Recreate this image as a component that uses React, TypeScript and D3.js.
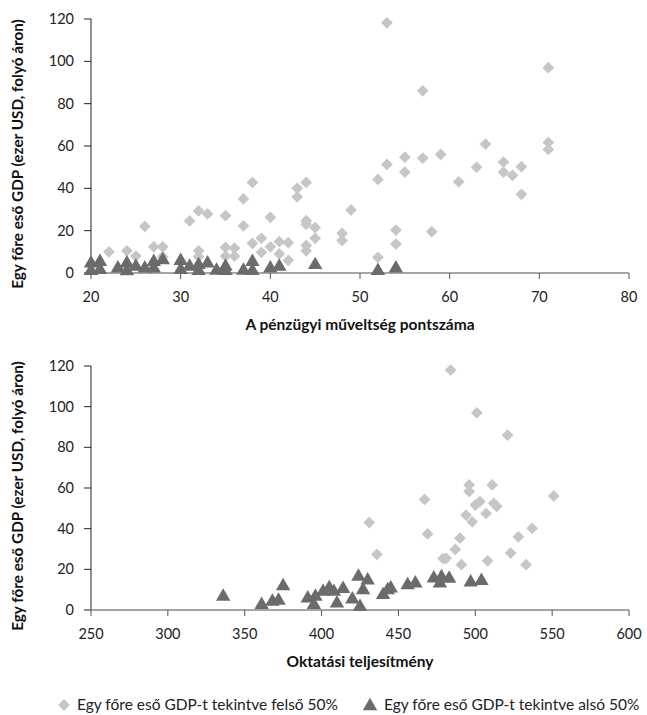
import React from "react";
import * as d3 from "d3";

// felső ábra: pénzügyi műveltség pontszáma vs. egy főre eső GDP
const finLitUpper: [number, number][] = [
  [22, 10], [24, 10.5], [25, 8], [26, 22], [27, 12.4], [28, 12.4], [28, 7.7],
  [31, 24.6], [32, 29.3], [33, 27.9], [32, 10.5], [32, 7.7], [35, 27.1], [35, 12.1],
  [35, 8], [36, 11.7], [36, 8], [37, 35], [37, 22.3], [38, 42.8], [38, 14],
  [39, 16.4], [39, 9.8], [40, 26.3], [40, 12.4], [41, 14.8], [41, 9], [42, 14.3],
  [42, 6], [43, 40], [43, 36], [44, 42.8], [44, 24.7], [44, 23], [44, 13], [44, 10.5],
  [45, 21.4], [45, 16.4], [48, 18.7], [48, 15.3], [49, 29.8], [52, 7.4], [52, 44.2],
  [53, 118.2], [53, 51.3], [54, 20.3], [54, 13.7], [55, 54.7], [55, 47.6], [57, 86.1],
  [57, 54.3], [58, 19.5], [59, 56], [61, 43.1], [63, 50], [64, 60.9], [66, 52.4],
  [66, 47.6], [67, 46.1], [68, 50.2], [68, 37.2], [71, 97], [71, 61.7], [71, 58.4],
];
const finLitLower: [number, number][] = [
  [20, 4.6], [20, 1], [21, 5.3], [21, 1.5], [23, 2.2], [24, 4.6], [24, 0.9], [25, 3],
  [26, 2.2], [27, 5.3], [27, 2.2], [28, 6.1], [30, 5.8], [30, 1.5], [31, 3], [32, 3.8],
  [32, 1], [33, 4.6], [34, 1.1], [35, 3], [35, 1], [37, 1.1], [38, 5.3], [38, 1],
  [40, 2.2], [41, 3], [45, 3.8], [52, 1], [54, 2.2],
];

// alsó ábra: oktatási teljesítmény vs. egy főre eső GDP
const eduUpper: [number, number][] = [
  [431, 43], [436, 27.4], [467, 54.4], [469, 37.4], [479, 25.3], [481, 25.4], [484, 118],
  [487, 29.8], [490, 35.3], [491, 22.3], [494, 46.7], [496, 61.5], [496, 58.3], [498, 43.4],
  [500, 51.6], [501, 97], [503, 53.3], [507, 47.5], [508, 24.2], [511, 61.5], [512, 52.5],
  [514, 51], [521, 86], [523, 28], [528, 36], [533, 22.3], [537, 40.2], [551, 56.1],
];
const eduLower: [number, number][] = [
  [336, 6.6], [361, 2.5], [368, 4.1], [372, 4.6], [375, 11.8], [391, 5.7], [396, 6.6],
  [395, 2.5], [401, 9], [405, 10.8], [408, 9], [410, 3.3], [414, 10.4], [420, 5.3],
  [424, 16.4], [425, 1.6], [427, 9.8], [430, 14.6], [440, 7.4], [443, 9.8], [445, 10.7],
  [456, 12.3], [461, 13.1], [473, 15.6], [477, 13.1], [478, 16.2], [483, 15.4],
  [497, 13.6], [504, 14.4],
];

const gdpTicks = [0, 20, 40, 60, 80, 100, 120];
const finLitTicks = [20, 30, 40, 50, 60, 70, 80];
const eduTicks = [250, 300, 350, 400, 450, 500, 550, 600];

const yTitle = "Egy főre eső GDP (ezer USD, folyó áron)";
const legendLabels = [
  "Egy főre eső GDP-t tekintve felső 50%",
  "Egy főre eső GDP-t tekintve alsó 50%",
];

const FONT = "Lato, 'Noto Sans', sans-serif";
const LIGHT = "#c6c6c6";
const DARK = "#6b6b6b";

const diamondPath = d3.symbol().type(d3.symbolDiamond2).size(88)()!;
const trianglePath = d3.symbol().type(d3.symbolTriangle).size(90)()!;

type PanelProps = {
  top: number;
  bottom: number;
  xDomain: [number, number];
  xTicks: number[];
  xTitle: string;
  upper: [number, number][];
  lower: [number, number][];
};

const Panel = ({ top, bottom, xDomain, xTicks, xTitle, upper, lower }: PanelProps) => {
  const left = 91;
  const right = 629;
  const x = d3.scaleLinear().domain(xDomain).range([left, right]);
  const y = d3.scaleLinear().domain([0, 120]).range([bottom, top]);

  return (
    <g>
      {/* y axis */}
      <text
        transform={`translate(23,${(top + bottom) / 2 + 8}) rotate(-90)`}
        textAnchor="middle"
        fontFamily={FONT}
        fontWeight="bold"
        fontSize={15.3}
        fill="#111"
      >
        {yTitle}
      </text>
      <line x1={left} x2={left} y1={top} y2={bottom} stroke="#222" strokeWidth={1} />
      {gdpTicks.map((t) => (
        <g key={t} transform={`translate(0,${y(t)})`}>
          <line x1={left - 7} x2={left} stroke="#222" />
          <text x={left - 17} dy="0.35em" textAnchor="end" fontFamily={FONT} fontSize={14.5} fill="#222">
            {t}
          </text>
        </g>
      ))}

      {/* x axis */}
      <line x1={left} x2={right} y1={bottom} y2={bottom} stroke="#888" strokeWidth={1.5} />
      {xTicks.map((t) => (
        <g key={t} transform={`translate(${x(t)},${bottom})`}>
          <line y1={0} y2={6} stroke="#555" />
          <text y={24} dy="0.35em" textAnchor="middle" fontFamily={FONT} fontSize={14.5} fill="#222">
            {t}
          </text>
        </g>
      ))}
      <text
        x={(left + right) / 2}
        y={bottom + 57}
        textAnchor="middle"
        fontFamily={FONT}
        fontWeight="bold"
        fontSize={15.5}
        fill="#111"
      >
        {xTitle}
      </text>

      {upper.map(([a, b], i) => (
        <path key={"u" + i} d={diamondPath} transform={`translate(${x(a)},${y(b)})`} fill={LIGHT} />
      ))}
      {lower.map(([a, b], i) => (
        <path key={"l" + i} d={trianglePath} transform={`translate(${x(a)},${y(b)})`} fill={DARK} />
      ))}
    </g>
  );
};

export default function App() {
  return (
    <svg
      width={647}
      height={715}
      style={{ position: "absolute", left: 0, top: 0, background: "#fff" }}
    >
      <rect width={647} height={715} fill="#fff" />
      <Panel
        top={19}
        bottom={273}
        xDomain={[20, 80]}
        xTicks={finLitTicks}
        xTitle="A pénzügyi műveltség pontszáma"
        upper={finLitUpper}
        lower={finLitLower}
      />
      <Panel
        top={366}
        bottom={610}
        xDomain={[250, 600]}
        xTicks={eduTicks}
        xTitle="Oktatási teljesítmény"
        upper={eduUpper}
        lower={eduLower}
      />

      {/* legend */}
      <g fontFamily={FONT} fontSize={15.5} fill="#222">
        <path d={diamondPath} transform="translate(64,705)" fill={LIGHT} />
        <text x={77} y={705} dy="0.35em">{legendLabels[0]}</text>
        <path d={trianglePath} transform="translate(370,706)" fill={DARK} />
        <text x={384} y={705} dy="0.35em">{legendLabels[1]}</text>
      </g>
    </svg>
  );
}
